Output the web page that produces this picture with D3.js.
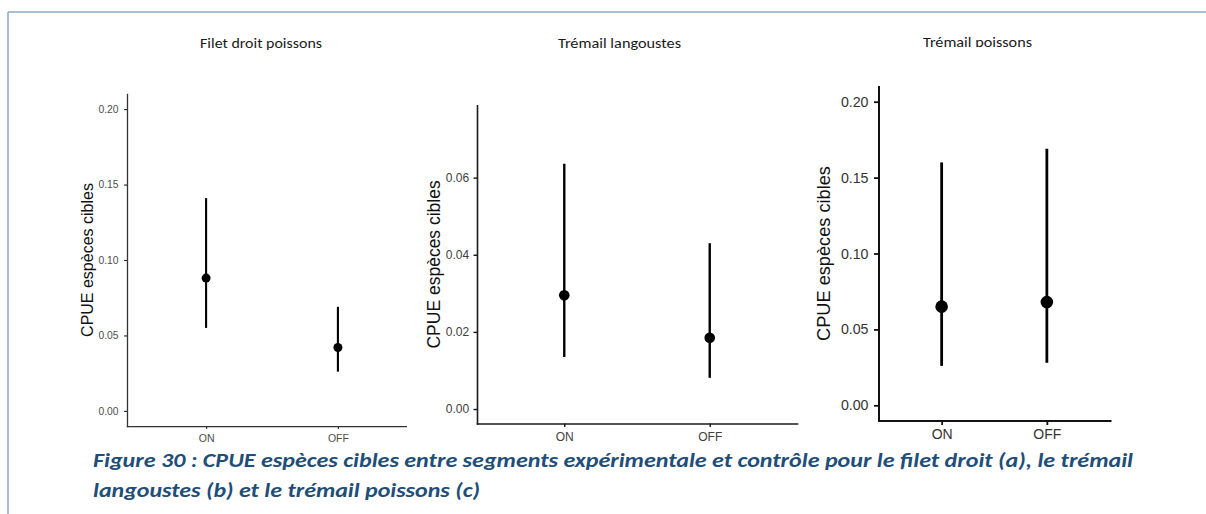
<!DOCTYPE html>
<html>
<head>
<meta charset="utf-8">
<script src="https://cdn.jsdelivr.net/npm/d3@7"></script>
<style>
  html, body { margin: 0; padding: 0; background: #ffffff; }
  svg { display: block; }
</style>
</head>
<body>
<svg id="fig" width="1206" height="514"></svg>
<script>
// ---- data -------------------------------------------------------------
const categories = ["ON", "OFF"];
const panelTitles = ["Filet droit poissons", "Trémail langoustes", "Trémail poissons"];
const yAxisTitle = "CPUE espèces cibles";

// Filet droit poissons: estimate with lower / upper interval bounds
const filetEst = [0.088, 0.042];
const filetLo  = [0.055, 0.026];
const filetHi  = [0.141, 0.069];

// Trémail langoustes
const langEst = [0.0295, 0.0185];
const langLo  = [0.0135, 0.0081];
const langHi  = [0.0636, 0.0430];

// Trémail poissons
const tremEst = [0.065, 0.068];
const tremLo  = [0.026, 0.028];
const tremHi  = [0.160, 0.169];

const filetTicks = [0, 0.05, 0.10, 0.15, 0.20];
const langTicks  = [0, 0.02, 0.04, 0.06];
const tremTicks  = [0, 0.05, 0.10, 0.15, 0.20];

const filetDomain = [-0.01, 0.21];
const langDomain  = [-0.00375, 0.07875];
const tremDomain  = [-0.01, 0.21];

const captionLines = [
  "Figure 30 : CPUE espèces cibles entre segments expérimentale et contrôle pour le filet droit (a), le trémail",
  "langoustes (b) et le trémail poissons (c)"
];

// ---- layout -------------------------------------------------------------
const svg = d3.select("#fig");
const defs = svg.append("defs");
const axisFont = "'Liberation Sans', Arial, Helvetica, sans-serif";
const docFont = "Carlito, Calibri, Lato, 'Open Sans', sans-serif";
const captionFont = "Carlito, Calibri, 'Open Sans', Lato, sans-serif";

// page frame (top and left rules)
svg.append("line").attr("x1", 8).attr("x2", 1206).attr("y1", 12).attr("y2", 12)
  .attr("stroke", "#8ea9c9").attr("stroke-width", 1.5);
svg.append("line").attr("x1", 8).attr("x2", 8).attr("y1", 12).attr("y2", 514)
  .attr("stroke", "#8ea9c9").attr("stroke-width", 1.5);

const panels = [
  {
    title: panelTitles[0], est: filetEst, lo: filetLo, hi: filetHi,
    ticks: filetTicks, domain: filetDomain,
    xRange: [127, 417], clipRight: 407, yRange: [426, 94],
    titleX: 261, titleY: 48, titleW: 122, titleClip: null,
    yTitleX: 92.5, tickFont: 10.3, xFont: 10.5, yTitleFont: 16,
    axisColor: "#333333", axisWidth: 1.3, textColor: "#4d4d4d",
    tickLen: 3, yPad: 5.5, xPad: 5.5, r: 4.5, barWidth: 2.1
  },
  {
    title: panelTitles[1], est: langEst, lo: langLo, hi: langHi,
    ticks: langTicks, domain: langDomain,
    xRange: [477, 797], clipRight: null, yRange: [423.5, 105.3],
    titleX: 619.5, titleY: 48, titleW: 123, titleClip: null,
    yTitleX: 439.5, tickFont: 12, xFont: 12, yTitleFont: 17.5,
    axisColor: "#1a1a1a", axisWidth: 1.6, textColor: "#404040",
    tickLen: 3.5, yPad: 4.3, xPad: 5.4, r: 5.3, barWidth: 2.4
  },
  {
    title: panelTitles[2], est: tremEst, lo: tremLo, hi: tremHi,
    ticks: tremTicks, domain: tremDomain,
    xRange: [878.5, 1110], clipRight: null, yRange: [420.5, 86.5],
    titleX: 977.5, titleY: 46.5, titleW: 109, titleClip: 47,
    yTitleX: 830, tickFont: 14.2, xFont: 14, yTitleFont: 18.2,
    axisColor: "#111111", axisWidth: 2, textColor: "#333333",
    tickLen: 4.5, yPad: 5.5, xPad: 4, r: 6.3, barWidth: 2.8
  }
];

panels.forEach((p, i) => {
  const g = svg.append("g").attr("class", "panel");
  const x = d3.scalePoint().domain(categories).range(p.xRange).padding(0.6);
  const y = d3.scaleLinear().domain(p.domain).range(p.yRange);

  // panel title
  const t = g.append("text")
    .attr("x", p.titleX).attr("y", p.titleY)
    .attr("text-anchor", "middle")
    .attr("font-family", docFont).attr("font-size", 13.5)
    .attr("fill", "#1a1a1a")
    .attr("textLength", p.titleW).attr("lengthAdjust", "spacingAndGlyphs")
    .text(p.title);
  if (p.titleClip !== null) {
    const id = "titleClip" + i;
    defs.append("clipPath").attr("id", id)
      .append("rect").attr("x", 0).attr("y", 0).attr("width", 1206).attr("height", p.titleClip);
    t.attr("clip-path", `url(#${id})`);
  }

  // y axis
  const yAxis = g.append("g")
    .attr("transform", `translate(${p.xRange[0]},0)`)
    .call(d3.axisLeft(y).tickValues(p.ticks).tickFormat(d3.format(".2f"))
      .tickSize(p.tickLen).tickSizeOuter(0).tickPadding(p.yPad));

  // x axis
  const xAxis = g.append("g")
    .attr("transform", `translate(0,${p.yRange[0]})`)
    .call(d3.axisBottom(x).tickSize(p.tickLen).tickSizeOuter(0).tickPadding(p.xPad));
  if (p.clipRight !== null) {
    const id = "axisClip" + i;
    defs.append("clipPath").attr("id", id)
      .append("rect").attr("x", 0).attr("y", 0).attr("width", p.clipRight).attr("height", 514);
    xAxis.attr("clip-path", `url(#${id})`);
  }

  [yAxis, xAxis].forEach(a => {
    a.select(".domain").attr("stroke", p.axisColor).attr("stroke-width", p.axisWidth)
      .attr("stroke-linecap", "square");
    a.selectAll(".tick line").attr("stroke", p.axisColor).attr("stroke-width", p.axisWidth * 0.9);
    a.selectAll(".tick text").attr("fill", p.textColor).attr("font-family", axisFont);
  });
  yAxis.selectAll(".tick text").attr("font-size", p.tickFont);
  xAxis.selectAll(".tick text").attr("font-size", p.xFont);

  // y axis title
  const cy = (p.yRange[0] + p.yRange[1]) / 2;
  g.append("text")
    .attr("transform", `translate(${p.yTitleX},${cy}) rotate(-90)`)
    .attr("text-anchor", "middle")
    .attr("font-family", axisFont).attr("font-size", p.yTitleFont)
    .attr("fill", "#111111")
    .text(yAxisTitle);

  // interval bars then points
  g.selectAll("line.range").data(categories).join("line")
    .attr("class", "range")
    .attr("x1", d => x(d)).attr("x2", d => x(d))
    .attr("y1", (d, j) => y(p.lo[j])).attr("y2", (d, j) => y(p.hi[j]))
    .attr("stroke", "#000").attr("stroke-width", p.barWidth);
  g.selectAll("circle.est").data(categories).join("circle")
    .attr("class", "est")
    .attr("cx", d => x(d)).attr("cy", (d, j) => y(p.est[j]))
    .attr("r", p.r).attr("fill", "#000");
});

// figure caption
const capBaselines = [467, 497];
const capWidths = [1040, 387];
captionLines.forEach((line, i) => {
  svg.append("text")
    .attr("x", 93).attr("y", capBaselines[i])
    .attr("font-family", captionFont).attr("font-size", 20)
    .attr("font-weight", "bold").attr("font-style", "italic")
    .attr("fill", "#1f4e79")
    .attr("textLength", capWidths[i]).attr("lengthAdjust", "spacingAndGlyphs")
    .text(line);
});
</script>
</body>
</html>
